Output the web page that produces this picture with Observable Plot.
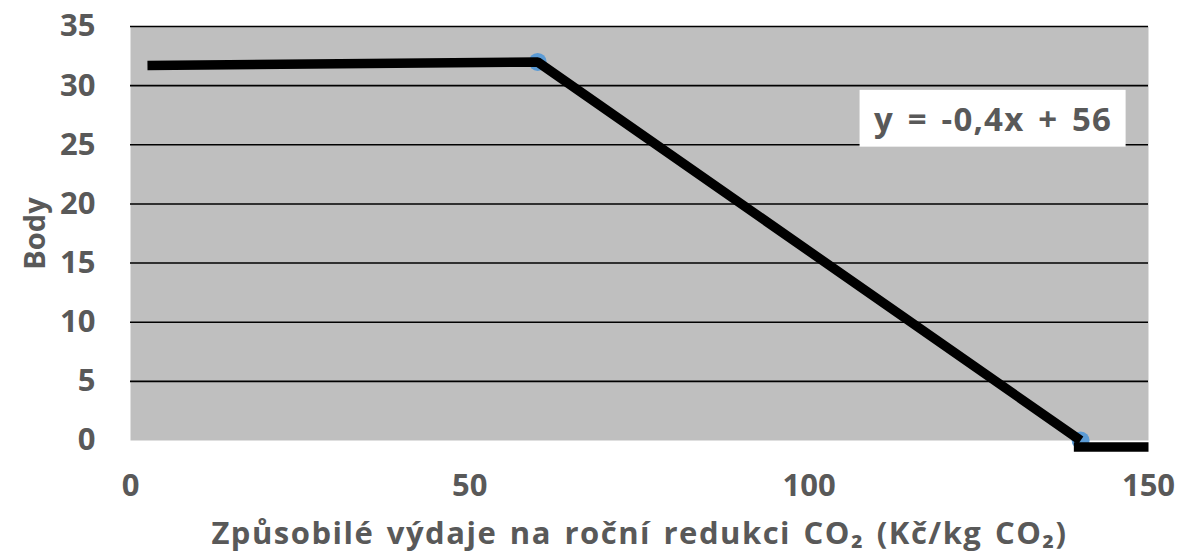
<!DOCTYPE html>
<html>
<head>
<meta charset="utf-8">
<script src="https://cdn.jsdelivr.net/npm/d3@7"></script>
<script src="https://cdn.jsdelivr.net/npm/@observablehq/plot@0.6"></script>
<style>
  html, body { margin: 0; padding: 0; background: #fff; }
</style>
</head>
<body>
<div id="chart"></div>
<script>
// Data
const lineX = [2.5, 60, 140];
const lineY = [31.7, 32, 0];
const pointX = [60, 140];
const pointY = [32, 0];
const tailX = [139, 150];
const tailY = [-0.55, -0.55];
const yTicks = [0, 5, 10, 15, 20, 25, 30, 35];
const xTicks = [0, 50, 100, 150];
const gridY = [5, 10, 15, 20, 25, 30, 35];
const equationText = ["y = -0,4x + 56"];
const equationBox = [{x1: 107.5, x2: 146.7, y1: 24.8, y2: 29.6}];
const equationPos = [{x: 127.1, y: 27.1}];
const xLabel = "Způsobilé výdaje na roční redukci CO₂ (Kč/kg CO₂)";
const yLabel = "Body";

const lineData = lineX.map((x, i) => ({x, y: lineY[i]}));
const pointData = pointX.map((x, i) => ({x, y: pointY[i]}));
const tailData = tailX.map((x, i) => ({x, y: tailY[i]}));

const txt = "#595959";
const chart = Plot.plot({
  width: 1185,
  height: 551,
  marginLeft: 130,
  marginRight: 37,
  marginTop: 26,
  marginBottom: 111,
  style: {fontFamily: "'Open Sans', sans-serif", background: "#fff"},
  x: {domain: [0, 150]},
  y: {domain: [0, 35]},
  marks: [
    Plot.frame({fill: "#bfbfbf", stroke: null}),
    Plot.ruleY(gridY, {stroke: "#000", strokeWidth: 1.6}),
    Plot.axisY({ticks: yTicks, tickSize: 0, tickPadding: 35, fontSize: 31, fontWeight: "bold", color: txt,
      label: null}),
    Plot.axisY({ticks: [], tickSize: 0, fontSize: 29, fontWeight: "bold", color: txt,
      label: yLabel, labelAnchor: "center", labelArrow: "none", labelOffset: 106}),
    Plot.axisX({ticks: xTicks, tickSize: 0, tickPadding: 33, fontSize: 31, fontWeight: "bold", color: txt,
      label: null}),
    Plot.axisX({ticks: [], tickSize: 0, fontSize: 31, fontWeight: "bold", color: txt,
      label: xLabel, labelAnchor: "center", labelArrow: "none", labelOffset: 103}),
    Plot.dot(pointData, {x: "x", y: "y", r: 9, fill: "#5b9bd5", stroke: null}),
    Plot.line(lineData, {x: "x", y: "y", stroke: "#000", strokeWidth: 9.5, strokeLinejoin: "miter", strokeLinecap: "butt"}),
    Plot.line(tailData, {x: "x", y: "y", stroke: "#000", strokeWidth: 9.5, strokeLinecap: "butt"}),
    Plot.rect(equationBox, {x1: "x1", x2: "x2", y1: "y1", y2: "y2", fill: "#fff"}),
    Plot.text(equationPos, {x: "x", y: "y", text: () => equationText[0], fontSize: 33, fontWeight: "bold", fill: txt})
  ]
});
d3.select(chart).selectAll("text").each(function() {
  const t = this.textContent;
  if (t === xLabel) d3.select(this).style("letter-spacing", "1.5px").style("word-spacing", "3px");
  else if (t === equationText[0]) d3.select(this).style("letter-spacing", "1.2px").style("word-spacing", "4px");
});
document.getElementById("chart").appendChild(chart);
</script>
</body>
</html>
